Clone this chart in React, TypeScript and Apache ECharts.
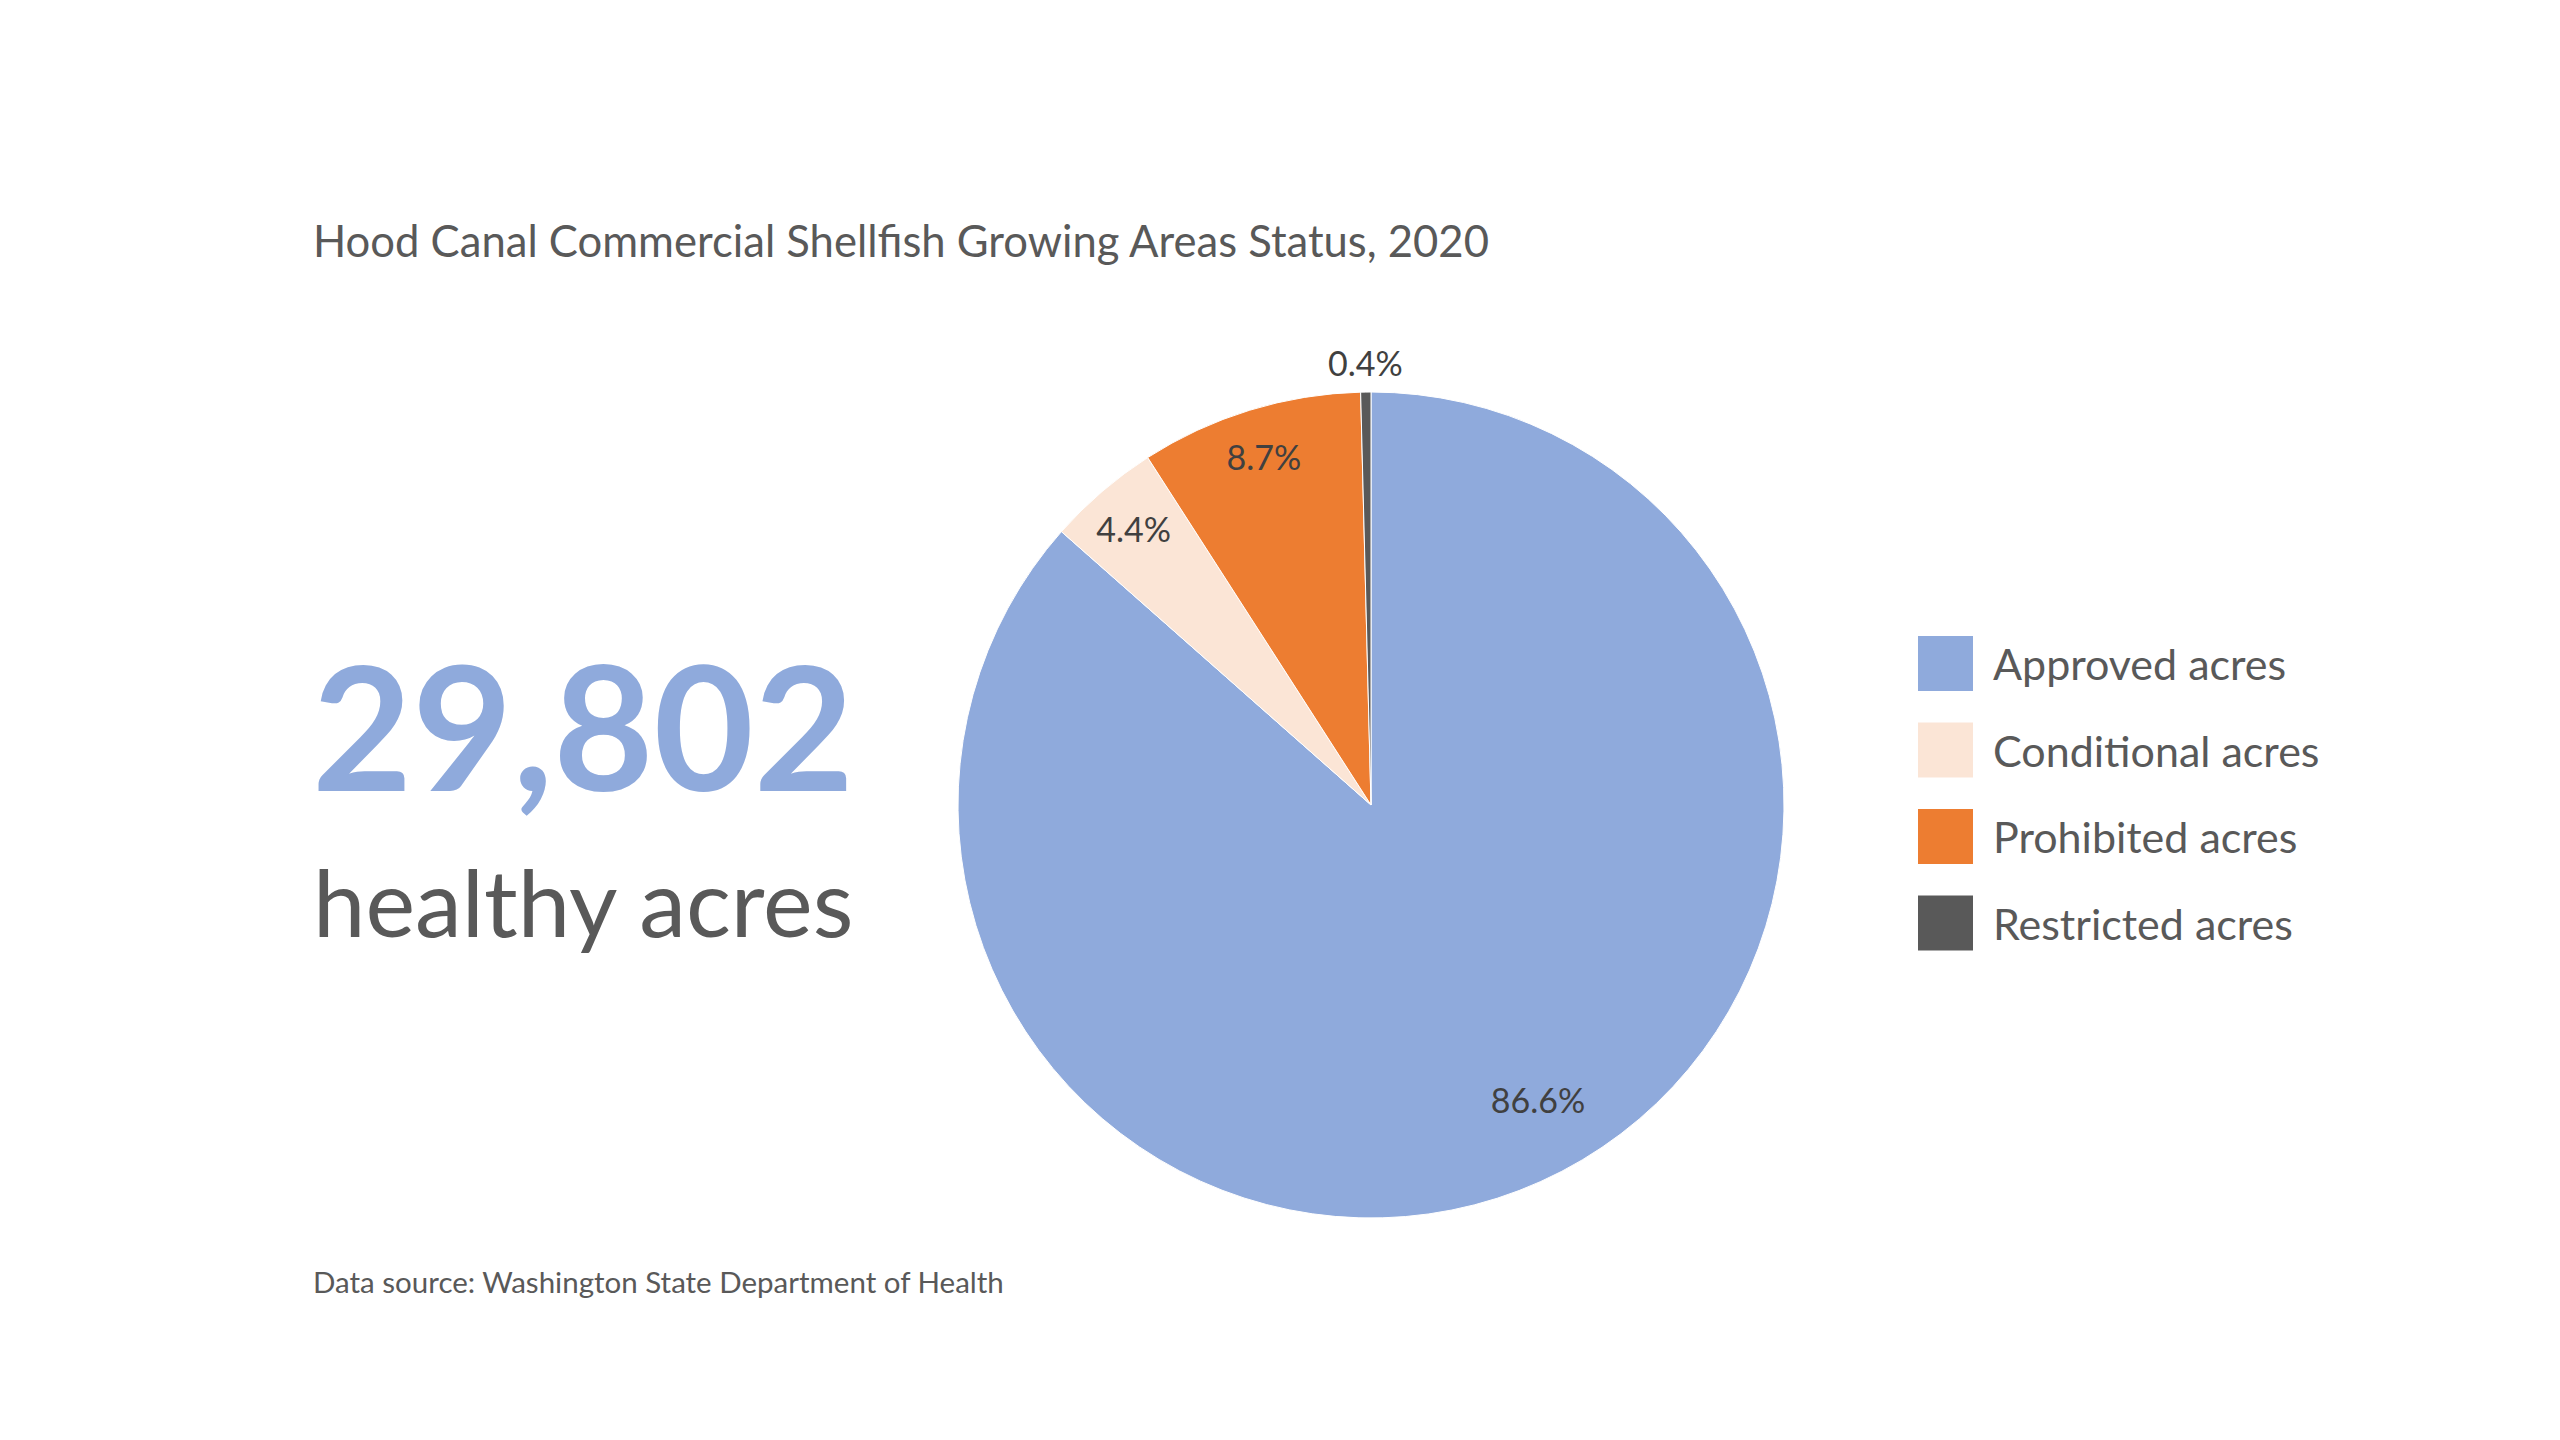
import React, { useEffect, useRef } from "react";
import * as echarts from "echarts";

const categories = ["Approved acres", "Conditional acres", "Prohibited acres", "Restricted acres"];
const shares = [86.6, 4.4, 8.7, 0.4];
const colors = ["#8FAADC", "#FBE5D6", "#ED7D31", "#595959"];
const titleText = "Hood Canal Commercial Shellfish Growing Areas Status, 2020";
const bigNumber = "29,802";
const bigCaption = "healthy acres";
const sourceText = "Data source: Washington State Department of Health";

const FONT = "Lato, 'Open Sans', sans-serif";
const CENTER = [1371, 805];
const R = 413;

function labelSeries(radius: number[], showIdx: number[], shift?: number[]) {
  const s: any = {
    type: "pie",
    silent: true,
    clockwise: true,
    startAngle: 90,
    center: CENTER,
    radius,
    itemStyle: { color: "rgba(0,0,0,0)" },
    labelLine: { show: false },
    emphasis: { disabled: true },
    data: categories.map((name, i) => ({
      name,
      value: shares[i],
      label: {
        show: showIdx.includes(i),
        position: "inside",
        formatter: "{c}%",
        color: "#404040",
        fontFamily: FONT,
        fontSize: 34,
      },
    })),
  };
  if (shift) s.labelLayout = { dx: shift[0], dy: shift[1] };
  return s;
}

export default function App() {
  const ref = useRef<HTMLDivElement>(null);
  useEffect(() => {
    document.body.style.margin = "0";
    const chart = echarts.init(ref.current!, null, { renderer: "svg" });
    chart.setOption({
      animation: false,
      backgroundColor: "#ffffff",
      color: colors,
      legend: {
        orient: "vertical",
        left: 1916,
        top: 634,
        padding: 0,
        itemWidth: 57,
        itemHeight: 57,
        itemGap: 27.5,
        icon: "rect",
        data: categories,
        selectedMode: false,
        textStyle: {
          fontFamily: FONT,
          fontSize: 43,
          lineHeight: 50,
          color: "#595959",
          padding: [0, 0, 0, 14],
        },
      },
      graphic: [
        {
          type: "text",
          style: {
            text: titleText,
            x: 313,
            y: 240,
            fill: "#595959",
            fontFamily: FONT,
            fontSize: 43.6,
            verticalAlign: "middle",
            align: "left",
          },
        },
        {
          type: "text",
          style: {
            text: bigNumber,
            x: 312,
            y: 724,
            fill: "#8FAADC",
            fontFamily: FONT,
            fontSize: 173,
            fontWeight: "bold",
            verticalAlign: "middle",
            align: "left",
          },
        },
        {
          type: "text",
          style: {
            text: bigCaption,
            x: 313,
            y: 900,
            fill: "#595959",
            fontFamily: FONT,
            fontSize: 94,
            verticalAlign: "middle",
            align: "left",
          },
        },
        {
          type: "text",
          style: {
            text: sourceText,
            x: 313,
            y: 1281,
            fill: "#595959",
            fontFamily: FONT,
            fontSize: 29.5,
            verticalAlign: "middle",
            align: "left",
          },
        },
      ],
      series: [
        {
          type: "pie",
          clockwise: true,
          startAngle: 90,
          center: CENTER,
          radius: R,
          label: { show: false },
          labelLine: { show: false },
          itemStyle: { borderColor: "#ffffff", borderWidth: 1 },
          emphasis: { disabled: true },
          data: categories.map((name, i) => ({ name, value: shares[i] })),
        },
        labelSeries([267, R], [0], [26, -18]),
        labelSeries([310, R], [1, 2]),
        labelSeries([R + 10, R + 44], [3]),
      ],
    });
    return () => chart.dispose();
  }, []);
  return <div ref={ref} style={{ width: 2560, height: 1440 }} />;
}
